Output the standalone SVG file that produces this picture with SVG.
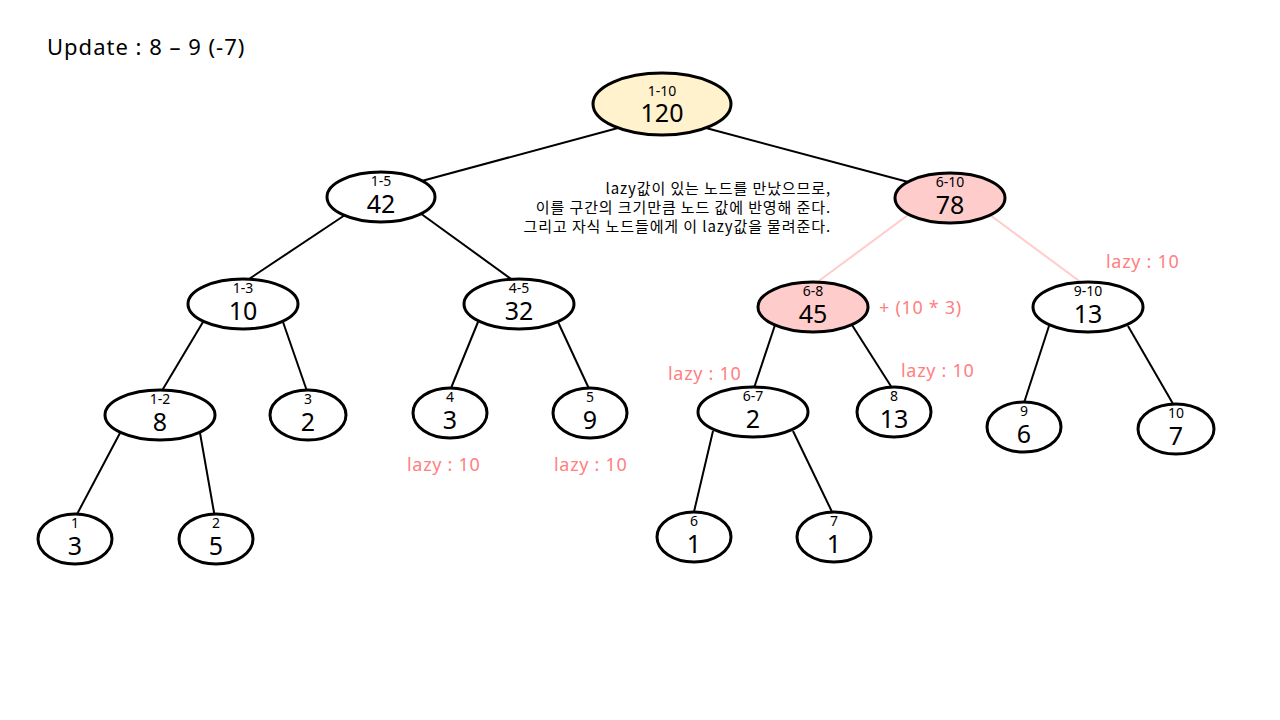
<svg xmlns="http://www.w3.org/2000/svg" width="1280" height="720" viewBox="0 0 1280 720">
<style>
.n{fill:#fff;stroke:#000;stroke-width:3}
.y{fill:#FFF2CC}
.p{fill:#FFCCCC}
.l{font-family:"Noto Sans","Noto Sans CJK KR",sans-serif;font-size:14px;fill:#000;text-anchor:middle}
.v{font-family:"Noto Sans","Noto Sans CJK KR",sans-serif;font-size:25px;fill:#000;text-anchor:middle}
.e line{stroke:#000;stroke-width:2}
.e line.pk{stroke:#FFCCCC}
.z{font-family:"Noto Sans","Noto Sans CJK KR",sans-serif;font-size:18px;letter-spacing:0.7px;fill:#FF8080}
.k{font-family:"Noto Sans CJK KR",sans-serif;font-size:15px;letter-spacing:0.9px;fill:#000;text-anchor:end}
</style>
<rect width="1280" height="720" fill="#fff"/>
<text x="47" y="55" font-family="Noto Sans, Noto Sans CJK KR, sans-serif" font-size="22" letter-spacing="1" fill="#000">Update : 8 – 9 (-7)</text>
<g id="connectors" class="e">
<line x1="618" y1="128" x2="418" y2="182"/>
<line x1="706" y1="128" x2="912" y2="183"/>
<line x1="345" y1="215" x2="243" y2="283"/>
<line x1="420" y1="213" x2="518" y2="284"/>
<line class="pk" x1="908" y1="215" x2="812" y2="286"/>
<line class="pk" x1="990" y1="215" x2="1086" y2="286"/>
<line x1="203" y1="322" x2="160" y2="394"/>
<line x1="283" y1="322" x2="308" y2="394"/>
<line x1="478" y1="322" x2="449" y2="393"/>
<line x1="558" y1="322" x2="591" y2="393"/>
<line x1="775" y1="325" x2="753" y2="391"/>
<line x1="852" y1="325" x2="894" y2="391"/>
<line x1="1049" y1="326" x2="1023" y2="406"/>
<line x1="1128" y1="326" x2="1176" y2="409"/>
<line x1="120" y1="433" x2="75" y2="518"/>
<line x1="200" y1="433" x2="215" y2="518"/>
<line x1="713" y1="431" x2="693" y2="516"/>
<line x1="793" y1="431" x2="834" y2="516"/>
</g>
<g id="n1-10"><ellipse class="n y" cx="662" cy="104" rx="69" ry="31"/><text class="l" x="662" y="96">1-10</text><text class="v" x="662" y="122" font-size="26">120</text></g>
<g id="n1-5"><ellipse class="n" cx="381" cy="197" rx="54" ry="25"/><text class="l" x="381" y="186">1-5</text><text class="v" x="381" y="213">42</text></g>
<g id="n6-10"><ellipse class="n p" cx="950" cy="198" rx="55" ry="25"/><text class="l" x="950" y="187">6-10</text><text class="v" x="950" y="214">78</text></g>
<g id="n1-3"><ellipse class="n" cx="243" cy="304" rx="55" ry="25"/><text class="l" x="243" y="293">1-3</text><text class="v" x="243" y="320">10</text></g>
<g id="n4-5"><ellipse class="n" cx="519" cy="304" rx="55" ry="25"/><text class="l" x="519" y="293">4-5</text><text class="v" x="519" y="320">32</text></g>
<g id="n6-8"><ellipse class="n p" cx="813" cy="307" rx="55" ry="25"/><text class="l" x="813" y="296">6-8</text><text class="v" x="813" y="323">45</text></g>
<g id="n9-10"><ellipse class="n" cx="1088" cy="307" rx="55" ry="25"/><text class="l" x="1088" y="296">9-10</text><text class="v" x="1088" y="323">13</text></g>
<g id="n1-2"><ellipse class="n" cx="160" cy="415" rx="55" ry="25"/><text class="l" x="160" y="404">1-2</text><text class="v" x="160" y="431">8</text></g>
<g id="n3"><ellipse class="n" cx="308" cy="415" rx="38" ry="25"/><text class="l" x="308" y="404">3</text><text class="v" x="308" y="431">2</text></g>
<g id="n4"><ellipse class="n" cx="450" cy="413" rx="37" ry="25"/><text class="l" x="450" y="402">4</text><text class="v" x="450" y="429">3</text></g>
<g id="n5"><ellipse class="n" cx="590" cy="413" rx="37" ry="25"/><text class="l" x="590" y="402">5</text><text class="v" x="590" y="429">9</text></g>
<g id="n6-7"><ellipse class="n" cx="753" cy="412" rx="55" ry="25"/><text class="l" x="753" y="401">6-7</text><text class="v" x="753" y="428">2</text></g>
<g id="n8"><ellipse class="n" cx="894" cy="412" rx="37" ry="25"/><text class="l" x="894" y="401">8</text><text class="v" x="894" y="428">13</text></g>
<g id="n9"><ellipse class="n" cx="1024" cy="427" rx="37" ry="25"/><text class="l" x="1024" y="416">9</text><text class="v" x="1024" y="443">6</text></g>
<g id="n10"><ellipse class="n" cx="1176" cy="429" rx="38" ry="25"/><text class="l" x="1176" y="418">10</text><text class="v" x="1176" y="445">7</text></g>
<g id="n1"><ellipse class="n" cx="75" cy="539" rx="37" ry="25"/><text class="l" x="75" y="528">1</text><text class="v" x="75" y="555">3</text></g>
<g id="n2"><ellipse class="n" cx="216" cy="539" rx="37" ry="25"/><text class="l" x="216" y="528">2</text><text class="v" x="216" y="555">5</text></g>
<g id="n6"><ellipse class="n" cx="694" cy="537" rx="37" ry="25"/><text class="l" x="694" y="526">6</text><text class="v" x="694" y="553">1</text></g>
<g id="n7"><ellipse class="n" cx="834" cy="537" rx="37" ry="25"/><text class="l" x="834" y="526">7</text><text class="v" x="834" y="553">1</text></g>
<g id="note">
<text class="k" x="831" y="194">lazy값이 있는 노드를 만났으므로,</text>
<text class="k" x="831" y="213">이를 구간의 크기만큼 노드 값에 반영해 준다.</text>
<text class="k" x="831" y="232">그리고 자식 노드들에게 이 lazy값을 물려준다.</text>
</g>
<g id="lazy">
<text class="z" x="1106" y="268">lazy : 10</text>
<text class="z" x="879" y="314">+ (10 * 3)</text>
<text class="z" x="668" y="380">lazy : 10</text>
<text class="z" x="901" y="377">lazy : 10</text>
<text class="z" x="407" y="471">lazy : 10</text>
<text class="z" x="554" y="471">lazy : 10</text>
</g>
</svg>
